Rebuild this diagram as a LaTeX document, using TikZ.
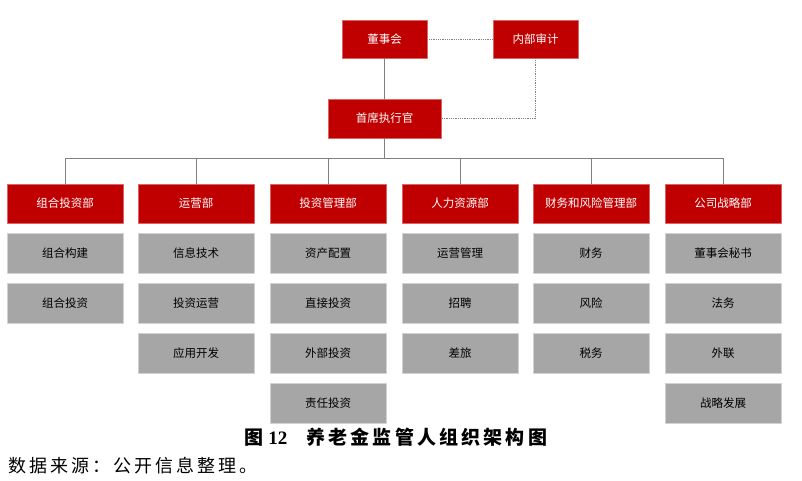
\documentclass[tikz,border=0pt]{standalone}
\usepackage{fontspec}
\setmainfont{Noto Sans CJK SC}
\newfontfamily\numfont{Liberation Serif}
\usetikzlibrary{positioning}
\definecolor{boxred}{HTML}{C00000}
\definecolor{boxgray}{HTML}{A6A6A6}
\definecolor{linegray}{HTML}{808080}
\begin{document}
\begin{tikzpicture}[x=1pt,y=-1pt,line join=round,
    redbox/.style={fill=boxred,draw=boxred!60!white,line width=0.4pt,text=white,
      minimum width=116pt,minimum height=39pt,inner sep=0pt,font=\fontsize{11.5}{13}\selectfont},
    graybox/.style={fill=boxgray,draw=boxgray!50!white,line width=0.6pt,text=black,
      minimum width=116pt,minimum height=40pt,inner sep=0pt,font=\fontsize{11.5}{13}\selectfont},
    link/.style={draw=linegray,line width=0.8pt},
    dotlink/.style={draw=linegray,line width=0.8pt,densely dotted},
    node distance=9.5pt]
\useasboundingbox (0,0) rectangle (802,481);
% top of the chart
\node[redbox,minimum width=85pt,minimum height=38pt] (board) at (384.5,39) {董事会};
\node[redbox,minimum width=85pt,minimum height=38pt] (audit) at (535.5,39) {内部审计};
\node[redbox,minimum width=113pt] (ceo) at (384.5,118.5) {首席执行官};
\draw[link] (board) -- (ceo);
\draw[dotlink] (board) -- (audit);
\draw[dotlink] (audit.south) |- (ceo.east);
% departments
\coordinate (bus) at (384.5,158);
\node[redbox] (d1) at (65,203.5) {组合投资部};
\node[redbox] (d2) at (196,203.5) {运营部};
\node[redbox] (d3) at (328,203.5) {投资管理部};
\node[redbox] (d4) at (460,203.5) {人力资源部};
\node[redbox] (d5) at (591,203.5) {财务和风险管理部};
\node[redbox] (d6) at (723,203.5) {公司战略部};
\draw[link] (ceo) -- (bus);
\draw[link] (d1.north) -- (d1.north |- bus) -- (d6.north |- bus) -- (d6.north);
\foreach \d in {d2,d3,d4,d5}
  \draw[link] (\d.north) -- (\d.north |- bus);
% functions
\node[graybox,below=of d1] (d1a) {组合构建};
\node[graybox,below=of d1a] (d1b) {组合投资};
\node[graybox,below=of d2] (d2a) {信息技术};
\node[graybox,below=of d2a] (d2b) {投资运营};
\node[graybox,below=of d2b] (d2c) {应用开发};
\node[graybox,below=of d3] (d3a) {资产配置};
\node[graybox,below=of d3a] (d3b) {直接投资};
\node[graybox,below=of d3b] (d3c) {外部投资};
\node[graybox,below=of d3c] (d3d) {责任投资};
\node[graybox,below=of d4] (d4a) {运营管理};
\node[graybox,below=of d4a] (d4b) {招聘};
\node[graybox,below=of d4b] (d4c) {差旅};
\node[graybox,below=of d5] (d5a) {财务};
\node[graybox,below=of d5a] (d5b) {风险};
\node[graybox,below=of d5b] (d5c) {税务};
\node[graybox,below=of d6] (d6a) {董事会秘书};
\node[graybox,below=of d6a] (d6b) {法务};
\node[graybox,below=of d6b] (d6c) {外联};
\node[graybox,below=of d6c] (d6d) {战略发展};
% caption and source
\node[font=\fontsize{19}{22}\selectfont\bfseries] (caption) at (396,437)
  {图 {\numfont\bfseries 12}\hspace{1em}养\,老\,金\,监\,管\,人\,组\,织\,架\,构\,图};
\node[anchor=west,inner sep=0pt,font=\fontsize{18}{21}\selectfont] (source) at (8,466)
  {数\,据\,来\,源\,：\,公\,开\,信\,息\,整\,理\,。};
\end{tikzpicture}
\end{document}
